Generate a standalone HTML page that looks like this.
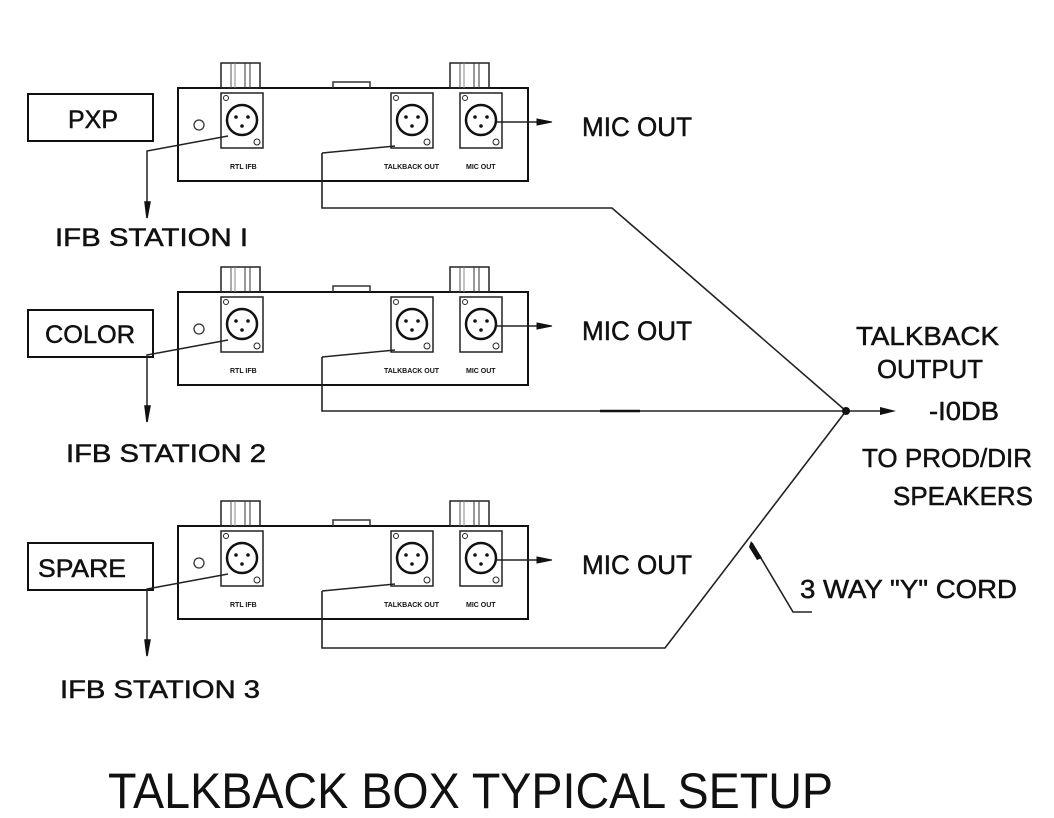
<!DOCTYPE html>
<html><head><meta charset="utf-8"><style>
html,body{margin:0;padding:0;background:#fff}
svg{display:block}
text{font-family:"Liberation Sans",sans-serif;fill:#111;stroke:#111;stroke-width:0.5}
</style></head><body>
<svg width="1054" height="818" viewBox="0 0 1054 818" xmlns="http://www.w3.org/2000/svg">
<defs>
<g id="xlr">
  <rect x="0" y="0" width="42" height="55" fill="none" stroke="#222" stroke-width="1.5"/>
  <circle cx="21" cy="27" r="15" fill="none" stroke="#111" stroke-width="2.5"/>
  <circle cx="15" cy="24" r="1.8" fill="#111"/><circle cx="27" cy="24" r="1.8" fill="#111"/><circle cx="21" cy="33" r="1.8" fill="#111"/>
  <circle cx="5" cy="5" r="2.5" fill="none" stroke="#222"/>
  <circle cx="36" cy="49" r="3" fill="none" stroke="#222"/>
</g>
<g id="knob">
  <rect x="0" y="0" width="39" height="25" fill="none" stroke="#222" stroke-width="1.5"/>
  <line x1="10" y1="0" x2="10" y2="25" stroke="#555"/><line x1="14" y1="0" x2="14" y2="25" stroke="#888"/>
  <line x1="24" y1="0" x2="24" y2="25" stroke="#333"/><line x1="29" y1="0" x2="29" y2="25" stroke="#333"/>
</g>
<g id="box">
  <rect x="178" y="88" width="350" height="93" fill="none" stroke="#111" stroke-width="2"/>
  <use href="#knob" x="221" y="63"/>
  <use href="#knob" x="450" y="63"/>
  <path d="M333 88 V82 H370 V88" fill="none" stroke="#333" stroke-width="1.5"/>
  <circle cx="199" cy="125" r="5" fill="none" stroke="#333" stroke-width="1.3"/>
  <use href="#xlr" x="221" y="93"/>
  <use href="#xlr" x="391" y="93"/>
  <use href="#xlr" x="460" y="93"/>
  <text x="230" y="169" font-size="7" font-weight="bold" style="stroke-width:0">RTL IFB</text>
  <text x="384" y="169" font-size="7" font-weight="bold" style="stroke-width:0">TALKBACK OUT</text>
  <text x="466" y="169" font-size="7" font-weight="bold" style="stroke-width:0">MIC OUT</text>
  <path d="M228 136 L147 151 V215" fill="none" stroke="#222" stroke-width="1.5"/>
  <path d="M145 202 L147 218 L150 202 Z" fill="#111" stroke="#111" stroke-width="1.5"/>
  <path d="M395 146 L322 153" fill="none" stroke="#222" stroke-width="1.5"/>
  <line x1="496" y1="122" x2="540" y2="122" stroke="#222" stroke-width="1.5"/>
  <path d="M537 119 L552 122 L537 125 Z" fill="#111" stroke="#111"/>
  <text x="582" y="136" font-size="27" textLength="110" lengthAdjust="spacingAndGlyphs">MIC OUT</text>
</g>
</defs>
<g stroke="#111" stroke-width="2" fill="none">
<rect x="28" y="94" width="125" height="47"/>
<rect x="28" y="310" width="125" height="47"/>
<rect x="28" y="543" width="125" height="47"/>
</g>
<text x="68" y="128" font-size="25" textLength="50" lengthAdjust="spacingAndGlyphs">PXP</text>
<text x="45" y="343" font-size="25" textLength="90" lengthAdjust="spacingAndGlyphs">COLOR</text>
<text x="38" y="577" font-size="25" textLength="88" lengthAdjust="spacingAndGlyphs">SPARE</text>
<use href="#box"/>
<use href="#box" y="204"/>
<use href="#box" y="438"/>
<text x="55" y="246" font-size="25" textLength="193" lengthAdjust="spacingAndGlyphs">IFB STATION I</text>
<text x="66" y="462" font-size="25" textLength="200" lengthAdjust="spacingAndGlyphs">IFB STATION 2</text>
<text x="60" y="698" font-size="25" textLength="200" lengthAdjust="spacingAndGlyphs">IFB STATION 3</text>
<g stroke="#222" stroke-width="1.6" fill="none">
<path d="M322 153 V208 H612 L846 411"/>
<path d="M322 357 V411 H846"/>
<path d="M322 591 V648 H665 L846 411"/>
<line x1="846" y1="411" x2="885" y2="411"/>
<path d="M812 612 H793 L752 543"/>
</g>
<line x1="600" y1="411" x2="640" y2="411" stroke="#111" stroke-width="2.5"/>
<circle cx="846" cy="411" r="4" fill="#111"/>
<path d="M880 407 L896 411 L880 415 Z" fill="#111"/>
<path d="M749 547 L751 541 L762 558 L757 560 Z" fill="#111"/>
<text x="856" y="345" font-size="26" textLength="143" lengthAdjust="spacingAndGlyphs">TALKBACK</text>
<text x="877" y="378" font-size="26" textLength="106" lengthAdjust="spacingAndGlyphs">OUTPUT</text>
<text x="929" y="420" font-size="26" textLength="70" lengthAdjust="spacingAndGlyphs">-I0DB</text>
<text x="862" y="467" font-size="26" textLength="170" lengthAdjust="spacingAndGlyphs">TO PROD/DIR</text>
<text x="893" y="505" font-size="26" textLength="140" lengthAdjust="spacingAndGlyphs">SPEAKERS</text>
<text x="800" y="598" font-size="26" textLength="217" lengthAdjust="spacingAndGlyphs">3 WAY "Y" CORD</text>
<text x="108" y="808" font-size="50" textLength="725" lengthAdjust="spacingAndGlyphs" style="stroke-width:0">TALKBACK BOX TYPICAL SETUP</text>
</svg>
</body></html>
